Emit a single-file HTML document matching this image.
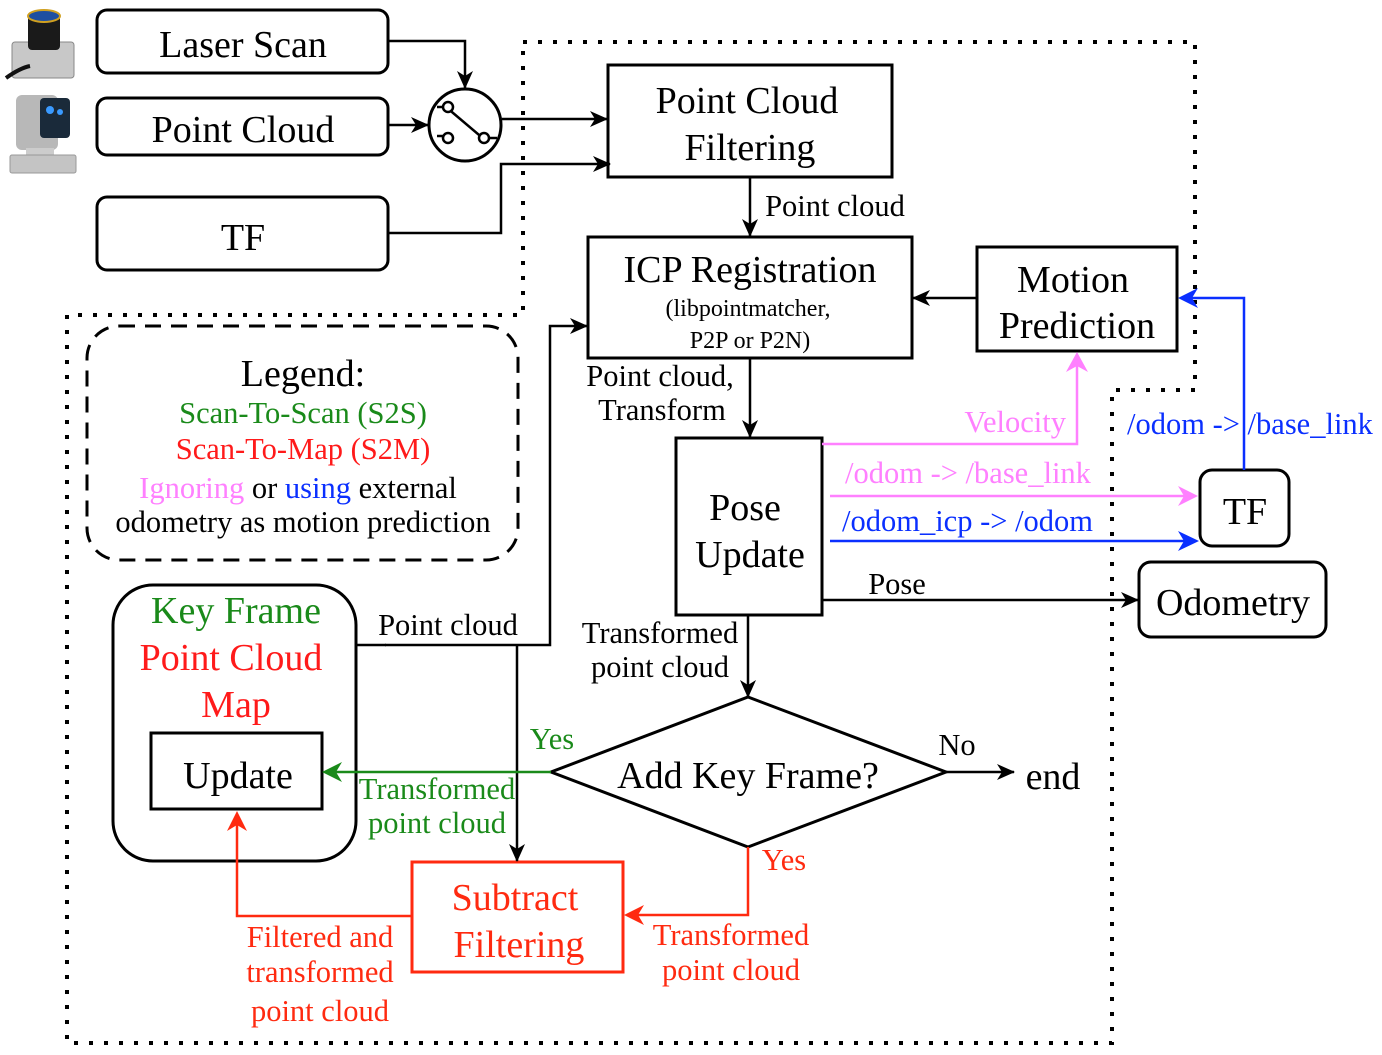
<!DOCTYPE html>
<html><head><meta charset="utf-8"><style>
html,body{margin:0;padding:0;background:#fff}
svg{display:block}
text{font-family:"Liberation Serif",serif;text-anchor:middle}
</style></head><body>
<svg width="1382" height="1055" viewBox="0 0 1382 1055" xmlns="http://www.w3.org/2000/svg">
<defs>
<marker id="ak" markerWidth="18" markerHeight="16" refX="17" refY="8" orient="auto" markerUnits="userSpaceOnUse" viewBox="0 0 18 16"><path d="M0,0 L18,8 L0,16 L5,8 z" fill="#000"/></marker>
</defs>
<g fill="none" stroke="#000" stroke-width="3">
<path d="M523,42 H1195 V390 H1112 V1043 H67 V315 H523 Z" stroke-width="4" stroke-dasharray="4 11"/>
<rect x="87" y="326" width="431" height="234" rx="32" stroke-dasharray="16 10"/>
<rect x="97" y="10" width="291" height="63" rx="10"/>
<rect x="97" y="98" width="291" height="57" rx="10"/>
<rect x="97" y="197" width="291" height="73" rx="10"/>
<circle cx="465" cy="125" r="36"/>
<rect x="608" y="65" width="284" height="112"/>
<rect x="588" y="237" width="324" height="121"/>
<rect x="977" y="247" width="200" height="104"/>
<rect x="676" y="438" width="146" height="177"/>
<rect x="1200" y="470" width="89" height="76" rx="12"/>
<rect x="1139" y="562" width="187" height="75" rx="12"/>
<path d="M748,697 L946,772 L748,847 L551,772 Z"/>
<rect x="113" y="585" width="243" height="276" rx="40"/>
<rect x="151" y="733" width="171" height="76"/>
<rect x="412" y="862" width="211" height="110" stroke="#ff2a10"/>
</g>
<g fill="#fff" stroke="#000" stroke-width="2.5">
<line x1="446" y1="107" x2="485" y2="140"/>
<line x1="437" y1="107" x2="446" y2="107"/><circle cx="448" cy="107" r="5"/>
<line x1="437" y1="136" x2="446" y2="136"/><circle cx="448" cy="138" r="5"/>
<line x1="487" y1="138" x2="497" y2="138"/><circle cx="484" cy="138" r="5"/>
</g>
<g fill="none" stroke="#000" stroke-width="2.5" marker-end="url(#ak)">
<path d="M388,41 H465 V88"/>
<path d="M388,125 H428"/>
<path d="M502,119 H607"/>
<path d="M388,233 H501 V164 H610"/>
<path d="M750,177 V236"/>
<path d="M977,298 H913"/>
<path d="M750,358 V437"/>
<path d="M822,600 H1138"/>
<path d="M748,615 V697"/>
<path d="M946,772 H1014"/>
<path d="M385,645 H550 V326 H587"/>
<path d="M517,645 V861"/>
</g>
<line x1="356" y1="645" x2="386" y2="645" stroke="#000" stroke-width="2.5"/>
<g fill="none" stroke-width="2.5">
<path d="M822,444 H1077 V362" stroke="#ff80ff"/>
<path d="M1066,372 L1077,352 L1088,372 L1077,366 Z" fill="#ff80ff" stroke="none"/>
<path d="M830,496 H1192" stroke="#ff80ff"/>
<path d="M1178,486 L1198,496 L1178,506 L1184,496 Z" fill="#ff80ff" stroke="none"/>
<path d="M830,541 H1192" stroke="#0a2fff"/>
<path d="M1178,531 L1199,541 L1178,551 L1184,541 Z" fill="#0a2fff" stroke="none"/>
<path d="M1244,470 V298 H1186" stroke="#0a2fff"/>
<path d="M1198,288 L1178,298 L1198,308 L1192,298 Z" fill="#0a2fff" stroke="none"/>
<path d="M551,772 H334" stroke="#1a8a1a"/>
<path d="M342,762 L322,772 L342,782 L336,772 Z" fill="#1a8a1a" stroke="none"/>
<path d="M748,847 V915 H634" stroke="#ff2a10"/>
<path d="M644,905 L624,915 L644,925 L638,915 Z" fill="#ff2a10" stroke="none"/>
<path d="M412,916 H237 V820" stroke="#ff2a10"/>
<path d="M227,831 L237,811 L247,831 L237,825 Z" fill="#ff2a10" stroke="none"/>
</g>
<g>
<rect x="12" y="42" width="62" height="36" rx="3" fill="#c8c8c8" stroke="#888"/>
<rect x="28" y="14" width="32" height="36" rx="4" fill="#1a1a1a"/>
<ellipse cx="44" cy="16" rx="16" ry="6" fill="#1e4fa0" stroke="#d0a020" stroke-width="2"/>
<path d="M6,78 Q20,68 30,66" stroke="#111" stroke-width="4" fill="none"/>
<rect x="16" y="95" width="42" height="55" rx="6" fill="#b8b8b8"/>
<rect x="40" y="98" width="30" height="40" rx="4" fill="#1a2a3a"/>
<circle cx="50" cy="110" r="4" fill="#3a9aff"/><circle cx="60" cy="112" r="3" fill="#3a9aff"/>
<rect x="26" y="148" width="28" height="10" fill="#ccc"/>
<rect x="10" y="155" width="66" height="18" rx="2" fill="#c4c4c4" stroke="#999"/>
</g>
<g font-size="38" fill="#000">
<text x="243" y="57">Laser Scan</text>
<text x="243" y="142">Point Cloud</text>
<text x="243" y="250">TF</text>
<text x="747" y="113">Point Cloud</text>
<text x="750" y="160">Filtering</text>
<text x="750" y="282">ICP Registration</text>
<text x="1073" y="292">Motion</text>
<text x="1077" y="338">Prediction</text>
<text x="745" y="520">Pose</text>
<text x="750" y="567">Update</text>
<text x="1245" y="524">TF</text>
<text x="1233" y="615">Odometry</text>
<text x="748" y="788">Add Key Frame?</text>
<text x="1053" y="789">end</text>
<text x="238" y="788">Update</text>
<text x="303" y="386">Legend:</text>
<text x="236" y="623" fill="#1a8a1a">Key Frame</text>
<text x="231" y="670" fill="#ff1a1a">Point Cloud</text>
<text x="236" y="717" fill="#ff1a1a">Map</text>
<text x="515" y="910" fill="#ff2a10">Subtract</text>
<text x="519" y="957" fill="#ff2a10">Filtering</text>
</g>
<g font-size="24">
<text x="748" y="316">(libpointmatcher,</text>
<text x="750" y="348">P2P or P2N)</text>
</g>
<g font-size="30.5">
<text x="835" y="216">Point cloud</text>
<text x="660" y="386">Point cloud,</text>
<text x="662" y="420">Transform</text>
<text x="897" y="594">Pose</text>
<text x="660" y="643">Transformed</text>
<text x="660" y="677">point cloud</text>
<text x="957" y="755">No</text>
<text x="448" y="635">Point cloud</text>
<text x="1066" y="432" fill="#ff80ff" style="text-anchor:end">Velocity</text>
<text x="845" y="483" fill="#ff80ff" style="text-anchor:start">/odom -&gt; /base_link</text>
<text x="842" y="531" fill="#0a2fff" style="text-anchor:start">/odom_icp -&gt; /odom</text>
<text x="1127" y="434" fill="#0a2fff" style="text-anchor:start">/odom -&gt; /base_link</text>
<text x="552" y="749" fill="#1a8a1a">Yes</text>
<text x="437" y="799" fill="#1a8a1a">Transformed</text>
<text x="437" y="833" fill="#1a8a1a">point cloud</text>
<text x="784" y="870" fill="#ff2a10">Yes</text>
<text x="731" y="945" fill="#ff2a10">Transformed</text>
<text x="731" y="980" fill="#ff2a10">point cloud</text>
<text x="320" y="947" fill="#ff2a10">Filtered and</text>
<text x="320" y="982" fill="#ff2a10">transformed</text>
<text x="320" y="1021" fill="#ff2a10">point cloud</text>
<text x="303" y="423" fill="#1a8a1a">Scan-To-Scan (S2S)</text>
<text x="303" y="459" fill="#ff1a1a">Scan-To-Map (S2M)</text>
<text x="298" y="498"><tspan fill="#ff80ff">Ignoring</tspan> or <tspan fill="#0a2fff">using</tspan> external</text>
<text x="303" y="532">odometry as motion prediction</text>
</g>
</svg>
</body></html>
